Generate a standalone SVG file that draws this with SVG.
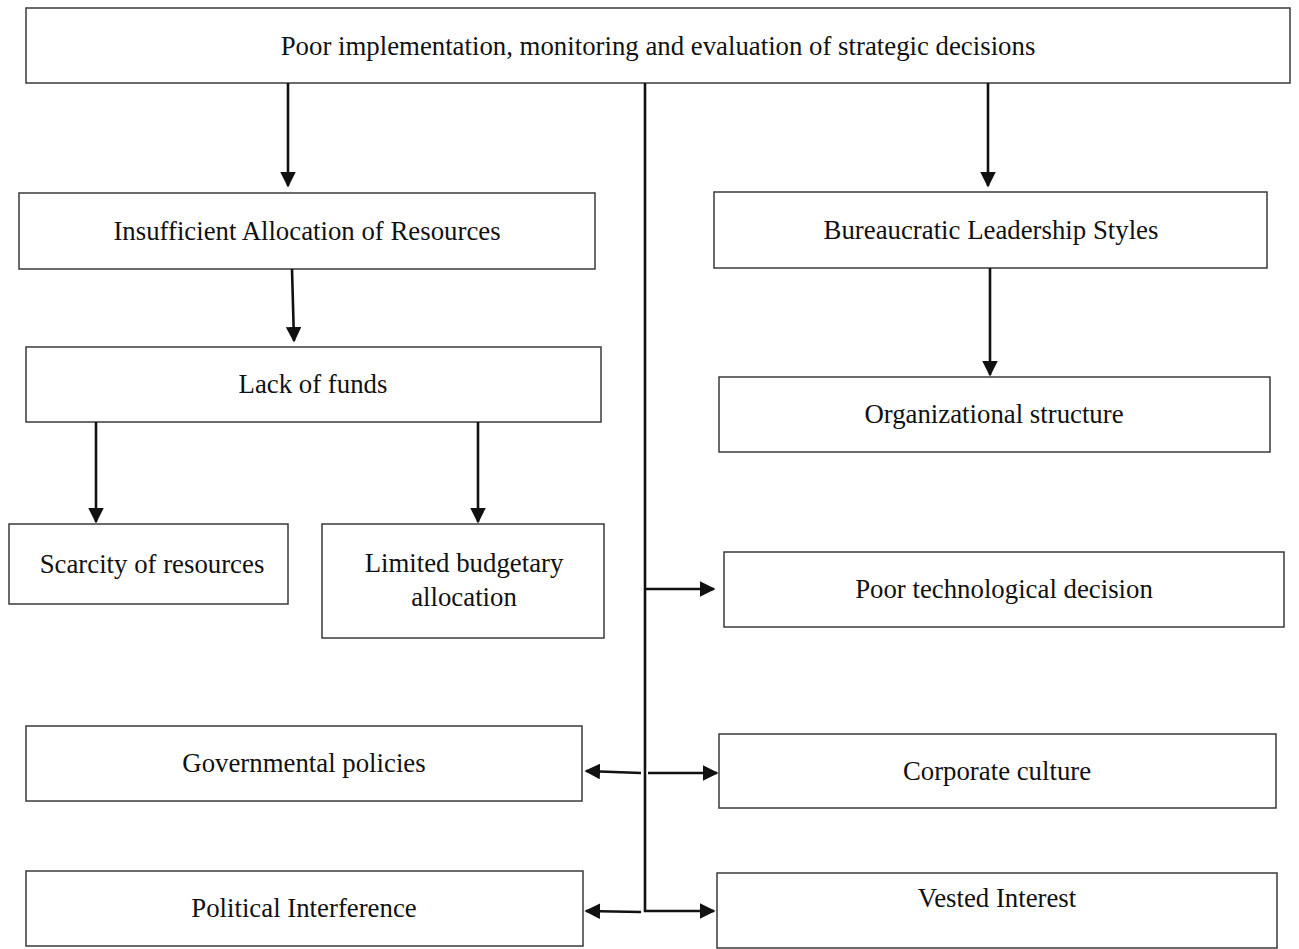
<svg xmlns="http://www.w3.org/2000/svg" width="1299" height="949" viewBox="0 0 1299 949">
  <style>
    .box { fill: #ffffff; stroke: #3a3a3a; stroke-width: 1.5; }
    .lbl { font-family: "Liberation Serif", "Times New Roman", serif; font-size: 26.8px; fill: #111111; text-anchor: middle; }
    .wire { fill: none; stroke: #111111; stroke-width: 2.6; }
  </style>
  <defs>
    <marker id="arrow" viewBox="0 0 10 10" refX="9" refY="5" markerWidth="6" markerHeight="6" orient="auto" markerUnits="strokeWidth">
      <path d="M0,0 L10,5 L0,10 Z" fill="#111111"/>
    </marker>
  </defs>
  <rect width="1299" height="949" fill="#ffffff"/>

  <g id="node-root">
    <rect class="box" x="26" y="8" width="1264" height="75"/>
    <text class="lbl" x="658" y="55">Poor implementation, monitoring and evaluation of strategic decisions</text>
  </g>
  <g id="node-insufficient">
    <rect class="box" x="19" y="193" width="576" height="76"/>
    <text class="lbl" x="307" y="240">Insufficient Allocation of Resources</text>
  </g>
  <g id="node-bureaucratic">
    <rect class="box" x="714" y="192" width="553" height="76"/>
    <text class="lbl" x="991" y="239">Bureaucratic Leadership Styles</text>
  </g>
  <g id="node-lackfunds">
    <rect class="box" x="26" y="347" width="575" height="75"/>
    <text class="lbl" x="313" y="393">Lack of funds</text>
  </g>
  <g id="node-organizational">
    <rect class="box" x="719" y="377" width="551" height="75"/>
    <text class="lbl" x="994" y="423">Organizational structure</text>
  </g>
  <g id="node-scarcity">
    <rect class="box" x="9" y="524" width="279" height="80"/>
    <text class="lbl" x="152" y="573">Scarcity of resources</text>
  </g>
  <g id="node-limited">
    <rect class="box" x="322" y="524" width="282" height="114"/>
    <text class="lbl" x="464" y="572">Limited budgetary</text>
    <text class="lbl" x="464" y="606">allocation</text>
  </g>
  <g id="node-technological">
    <rect class="box" x="724" y="552" width="560" height="75"/>
    <text class="lbl" x="1004" y="598">Poor technological decision</text>
  </g>
  <g id="node-governmental">
    <rect class="box" x="26" y="726" width="556" height="75"/>
    <text class="lbl" x="304" y="772">Governmental policies</text>
  </g>
  <g id="node-corporate">
    <rect class="box" x="719" y="734" width="557" height="74"/>
    <text class="lbl" x="997" y="780">Corporate culture</text>
  </g>
  <g id="node-political">
    <rect class="box" x="26" y="871" width="557" height="75"/>
    <text class="lbl" x="304" y="917">Political Interference</text>
  </g>
  <g id="node-vested">
    <rect class="box" x="717" y="873" width="560" height="75"/>
    <text class="lbl" x="997" y="907">Vested Interest</text>
  </g>

  <g id="connectors">
    <line class="wire" x1="288" y1="83" x2="288" y2="186" marker-end="url(#arrow)"/>
    <line class="wire" x1="988" y1="83" x2="988" y2="186" marker-end="url(#arrow)"/>
    <line class="wire" x1="292" y1="269" x2="294" y2="341" marker-end="url(#arrow)"/>
    <line class="wire" x1="96" y1="422" x2="96" y2="522" marker-end="url(#arrow)"/>
    <line class="wire" x1="478" y1="422" x2="478" y2="522" marker-end="url(#arrow)"/>
    <line class="wire" x1="990" y1="268" x2="990" y2="375" marker-end="url(#arrow)"/>
    <!-- central trunk -->
    <polyline class="wire" points="645,83 645,911 714,911" marker-end="url(#arrow)"/>
    <line class="wire" x1="645" y1="589" x2="714" y2="589" marker-end="url(#arrow)"/>
    <line class="wire" x1="648" y1="773" x2="717" y2="773" marker-end="url(#arrow)"/>
    <line class="wire" x1="641" y1="773" x2="586" y2="771" marker-end="url(#arrow)"/>
    <line class="wire" x1="641" y1="912" x2="586" y2="911" marker-end="url(#arrow)"/>
  </g>
</svg>
